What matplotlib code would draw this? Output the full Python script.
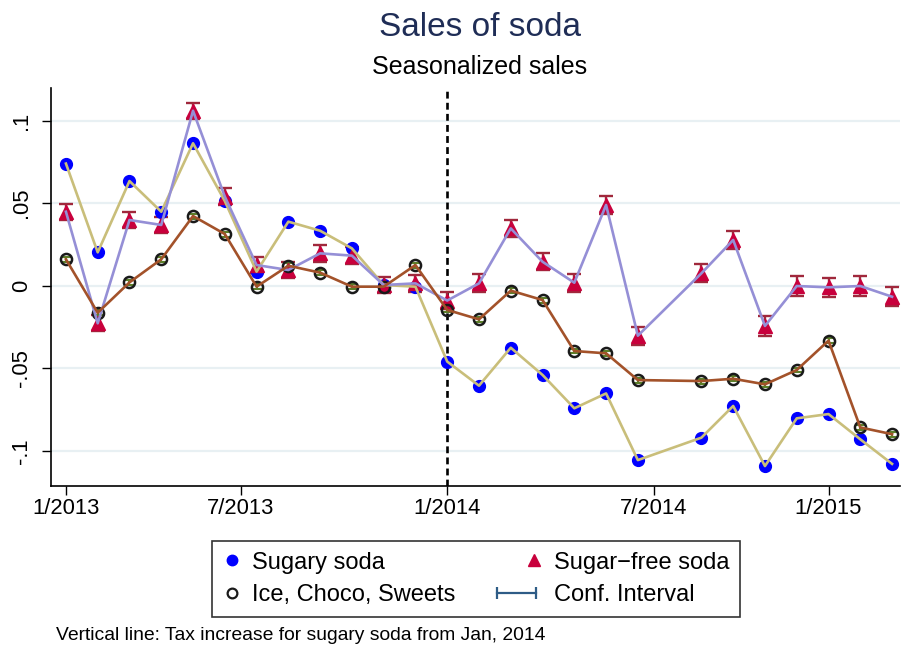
import numpy as np
import matplotlib.pyplot as plt
from matplotlib.lines import Line2D
from matplotlib.legend_handler import HandlerLine2D

plt.rcParams['font.family'] = ['Liberation Sans', 'DejaVu Sans']

# monthly observations (8/2014 is missing in every series)
months = ['2013-01', '2013-02', '2013-03', '2013-04', '2013-05', '2013-06',
          '2013-07', '2013-08', '2013-09', '2013-10', '2013-11', '2013-12',
          '2014-01', '2014-02', '2014-03', '2014-04', '2014-05', '2014-06',
          '2014-07', '2014-09', '2014-10', '2014-11', '2014-12',
          '2015-01', '2015-02', '2015-03']

sugary = [0.0740, 0.0202, 0.0634, 0.0448, 0.0863, 0.0513, 0.0085, 0.0388,
          0.0333, 0.0226, 0.0004, -0.0006, -0.0460, -0.0606, -0.0376, -0.0541,
          -0.0743, -0.0653, -0.1057, -0.0921, -0.0729, -0.1093, -0.0804,
          -0.0778, -0.0931, -0.1080]

sugarfree = [0.0448, -0.0228, 0.0398, 0.0368, 0.1060, 0.0540, 0.0125, 0.0095,
             0.0196, 0.0182, 0.0004, 0.0014, -0.0090, 0.0014, 0.0347, 0.0145,
             0.0018, 0.0489, -0.0303, 0.0075, 0.0277, -0.0244, -0.0002,
             -0.0010, -0.0002, -0.0067]

sugarfree_ci = [0.0050, 0.0048, 0.0050, 0.0050, 0.0048, 0.0050, 0.0050, 0.0050,
                0.0050, 0.0050, 0.0050, 0.0052, 0.0053, 0.0055, 0.0053, 0.0053,
                0.0055, 0.0053, 0.0055, 0.0055, 0.0055, 0.0058, 0.0058,
                0.0058, 0.0058, 0.0058]

ice = [0.0160, -0.0164, 0.0020, 0.0160, 0.0422, 0.0313, -0.0006, 0.0121,
       0.0079, -0.0006, -0.0006, 0.0125, -0.0147, -0.0204, -0.0030, -0.0087,
       -0.0396, -0.0410, -0.0572, -0.0578, -0.0564, -0.0598, -0.0511,
       -0.0333, -0.0859, -0.0900]

ice_ci = [0.0015, 0.0015, 0.0015, 0.0015, 0.0015, 0.0015, 0.0015, 0.0015,
          0.0015, 0.0015, 0.0015, 0.0015, 0.0015, 0.0015, 0.0015, 0.0015,
          0.0015, 0.0015, 0.0015, 0.0015, 0.0015, 0.0015, 0.0015,
          0.0015, 0.0015, 0.0015]

tick_pos = [0, 5.5, 12, 18.5, 24]
tick_labels = ['1/2013', '7/2013', '1/2014', '7/2014', '1/2015']
y_ticks = [0.1, 0.05, 0, -0.05, -0.1]
y_labels = ['.1', '.05', '0', '-.05', '-.1']
tax_month = '2014-01'


def month_index(m):
    y, mo = m.split('-')
    return (int(y) - 2013) * 12 + int(mo) - 1


class WideLineHandler(HandlerLine2D):
    # legend key for the CI: stretch it to the left beyond the handle box
    def __init__(self, extra, **kw):
        super().__init__(**kw)
        self.extra = extra

    def create_artists(self, legend, orig_handle, xdescent, ydescent,
                       width, height, fontsize, trans):
        return super().create_artists(legend, orig_handle, xdescent + self.extra,
                                      ydescent, width + self.extra, height,
                                      fontsize, trans)


x = np.array([month_index(m) for m in months])

fig = plt.figure(figsize=(9.01, 6.49), dpi=100)
ax = fig.add_axes([51 / 901, 1 - 486 / 649, 849 / 901, 398 / 649])

for yv in y_ticks:
    ax.axhline(yv, color='#E8F0F3', lw=1.6, zorder=0)

ax.axvline(month_index(tax_month), color='black', lw=1.9, ls=(0, (2.6, 1.6)), zorder=1)

ax.errorbar(x, sugarfree, yerr=sugarfree_ci, fmt='none', ecolor='#A0283C',
            elinewidth=1.7, capsize=5, capthick=1.7, zorder=2)
ax.errorbar(x, ice, yerr=ice_ci, fmt='none', ecolor='#5B7F2A',
            elinewidth=1.5, capsize=3.5, capthick=1.5, zorder=2)

ax.plot(x, sugary, 'o', color='#0000FF', ms=8.5, zorder=3)
ax.plot(x, sugarfree, '^', color='#C8003C', ms=10, zorder=3)
ax.plot(x, ice, 'o', mfc='none', mec='#1A1A1A', mew=1.8, ms=8, zorder=3)

ax.plot(x, sugary, color='#C9BE7A', lw=1.9, zorder=4)
ax.plot(x, sugarfree, color='#958FD6', lw=1.9, zorder=4)
ax.plot(x, ice, color='#A3522A', lw=1.9, zorder=4)

ax.set_xlim(-0.47, 26.25)
ax.set_ylim(-0.1214, 0.1198)
ax.set_xticks(tick_pos)
ax.set_xticklabels(tick_labels, fontsize=15.8)
ax.set_yticks(y_ticks)
ax.set_yticklabels(y_labels, fontsize=15.8, rotation=90, va='center')
ax.tick_params(axis='x', length=6.5, width=1, pad=2)
ax.tick_params(axis='y', length=6.5, width=1, pad=7)
for s in ['top', 'right']:
    ax.spines[s].set_visible(False)
for s in ['left', 'bottom']:
    ax.spines[s].set_linewidth(1.2)

fig.text(480 / 901, 1 - 28 / 649, 'Sales of soda', ha='center', va='center',
         fontsize=24, color='#1F2D56')
fig.text(480 / 901, 1 - 67 / 649, 'Seasonalized sales', ha='center', va='center',
         fontsize=18, color='black')

h_sug = Line2D([], [], ls='none', marker='o', color='#0000FF', ms=7.5)
h_ice = Line2D([], [], ls='none', marker='o', mfc='none', mec='#1A1A1A', mew=1.6, ms=7)
h_sf = Line2D([], [], ls='none', marker='^', color='#C8003C', ms=9)
h_ci = Line2D([], [], color='#2E5C86', lw=1.6, marker='|', ms=9, mew=1.6)

leg = fig.legend([h_sug, h_ice, h_sf, h_ci],
                 ['Sugary soda', 'Ice, Choco, Sweets', 'Sugar\u2212free soda', 'Conf. Interval'],
                 ncol=2, loc='center', bbox_to_anchor=(476 / 901, 1 - 579 / 649),
                 fontsize=17, frameon=True, fancybox=False, numpoints=1,
                 handlelength=0.8, columnspacing=2.9, labelspacing=0.45,
                 borderpad=0.45, borderaxespad=0, handletextpad=0.45,
                 handler_map={h_ci: WideLineHandler(25, numpoints=2)})
leg.get_frame().set_edgecolor('black')
leg.get_frame().set_linewidth(1.2)

fig.text(56 / 901, 1 - 635 / 649,
         'Vertical line: Tax increase for sugary soda from Jan, 2014',
         ha='left', va='center', fontsize=13.9)

fig.savefig('out.png', dpi=100)
